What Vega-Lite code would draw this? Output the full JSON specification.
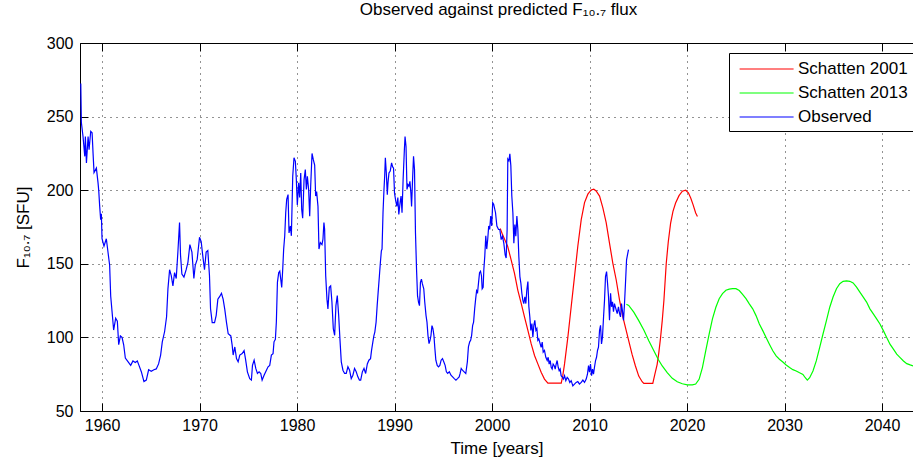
{
  "$schema": "https://vega.github.io/schema/vega-lite/v6.json",
  "width": 833,
  "height": 368,
  "autosize": {"type": "none"},
  "padding": {"left": 80, "top": 43, "right": 0, "bottom": 46},
  "background": "#ffffff",
  "title": {"text": "Observed against predicted F₁₀.₇ flux", "fontSize": 17, "fontWeight": "normal", "font": "Liberation Sans", "color": "#000000", "offset": 16, "anchor": "middle", "dx": 2},
  "config": {
    "view": {"stroke": null},
    "font": "Liberation Sans",
    "axis": {"labelFont": "Liberation Sans", "titleFont": "Liberation Sans", "labelFontSize": 16, "titleFontSize": 17, "titleFontWeight": "normal", "labelColor": "#000000", "titleColor": "#000000", "domainColor": "#000000", "tickColor": "#000000", "domainWidth": 1, "tickWidth": 1, "labelFlush": false, "labelOverlap": false}
  },
  "datasets": {
    "flux": [
      {"series":"Observed","year":1957.82,"flux":272.5},{"series":"Observed","year":1957.88,"flux":246},{"series":"Observed","year":1958.05,"flux":236.5},{"series":"Observed","year":1958.23,"flux":223},{"series":"Observed","year":1958.29,"flux":236.5},{"series":"Observed","year":1958.40,"flux":218.5},{"series":"Observed","year":1958.57,"flux":236.5},{"series":"Observed","year":1958.67,"flux":227.5},{"series":"Observed","year":1958.84,"flux":240},{"series":"Observed","year":1958.98,"flux":239},{"series":"Observed","year":1959.08,"flux":225},{"series":"Observed","year":1959.18,"flux":212},{"series":"Observed","year":1959.42,"flux":215},{"series":"Observed","year":1959.59,"flux":205},{"series":"Observed","year":1959.66,"flux":200},{"series":"Observed","year":1959.76,"flux":189},{"series":"Observed","year":1959.86,"flux":180},{"series":"Observed","year":1959.93,"flux":184},{"series":"Observed","year":1960.00,"flux":167},{"series":"Observed","year":1960.20,"flux":162},{"series":"Observed","year":1960.44,"flux":167},{"series":"Observed","year":1960.61,"flux":158},{"series":"Observed","year":1960.78,"flux":149},{"series":"Observed","year":1960.89,"flux":128},{"series":"Observed","year":1961.06,"flux":115},{"series":"Observed","year":1961.19,"flux":105},{"series":"Observed","year":1961.40,"flux":113},{"series":"Observed","year":1961.57,"flux":111},{"series":"Observed","year":1961.71,"flux":95},{"series":"Observed","year":1961.88,"flux":101},{"series":"Observed","year":1962.05,"flux":100},{"series":"Observed","year":1962.22,"flux":95},{"series":"Observed","year":1962.39,"flux":86},{"series":"Observed","year":1962.66,"flux":83.5},{"series":"Observed","year":1962.94,"flux":81},{"series":"Observed","year":1963.17,"flux":84},{"series":"Observed","year":1963.41,"flux":83},{"series":"Observed","year":1963.62,"flux":84},{"series":"Observed","year":1963.79,"flux":81},{"series":"Observed","year":1964.03,"flux":76.7},{"series":"Observed","year":1964.30,"flux":70},{"series":"Observed","year":1964.54,"flux":71},{"series":"Observed","year":1964.78,"flux":78},{"series":"Observed","year":1965.05,"flux":77},{"series":"Observed","year":1965.32,"flux":78},{"series":"Observed","year":1965.56,"flux":78.6},{"series":"Observed","year":1965.80,"flux":82},{"series":"Observed","year":1966.01,"flux":88},{"series":"Observed","year":1966.18,"flux":97},{"series":"Observed","year":1966.42,"flux":104},{"series":"Observed","year":1966.62,"flux":114},{"series":"Observed","year":1966.76,"flux":133},{"series":"Observed","year":1966.93,"flux":146},{"series":"Observed","year":1967.10,"flux":142},{"series":"Observed","year":1967.27,"flux":135},{"series":"Observed","year":1967.44,"flux":144},{"series":"Observed","year":1967.61,"flux":140},{"series":"Observed","year":1967.78,"flux":158},{"series":"Observed","year":1967.95,"flux":178},{"series":"Observed","year":1968.05,"flux":156},{"series":"Observed","year":1968.19,"flux":143},{"series":"Observed","year":1968.40,"flux":141},{"series":"Observed","year":1968.63,"flux":146},{"series":"Observed","year":1968.81,"flux":151},{"series":"Observed","year":1969.01,"flux":163},{"series":"Observed","year":1969.22,"flux":158},{"series":"Observed","year":1969.42,"flux":140},{"series":"Observed","year":1969.56,"flux":149},{"series":"Observed","year":1969.76,"flux":153},{"series":"Observed","year":1970.00,"flux":168},{"series":"Observed","year":1970.17,"flux":165},{"series":"Observed","year":1970.34,"flux":155},{"series":"Observed","year":1970.51,"flux":146},{"series":"Observed","year":1970.68,"flux":158},{"series":"Observed","year":1970.85,"flux":159},{"series":"Observed","year":1971.02,"flux":142},{"series":"Observed","year":1971.13,"flux":119.5},{"series":"Observed","year":1971.30,"flux":110},{"series":"Observed","year":1971.54,"flux":110},{"series":"Observed","year":1971.71,"flux":115},{"series":"Observed","year":1971.88,"flux":126},
      {"series":"Observed","year":1972.09,"flux":128},{"series":"Observed","year":1972.25,"flux":130},{"series":"Observed","year":1972.42,"flux":126},{"series":"Observed","year":1972.59,"flux":119},{"series":"Observed","year":1972.76,"flux":110.4},{"series":"Observed","year":1972.94,"flux":102.5},{"series":"Observed","year":1973.21,"flux":101},{"series":"Observed","year":1973.35,"flux":94.6},{"series":"Observed","year":1973.45,"flux":88},{"series":"Observed","year":1973.62,"flux":93.5},{"series":"Observed","year":1973.79,"flux":85.6},{"series":"Observed","year":1973.96,"flux":83.4},{"series":"Observed","year":1974.13,"flux":88},{"series":"Observed","year":1974.37,"flux":89},{"series":"Observed","year":1974.57,"flux":91},{"series":"Observed","year":1974.71,"flux":85.6},{"series":"Observed","year":1974.91,"flux":76.6},{"series":"Observed","year":1975.15,"flux":72},{"series":"Observed","year":1975.32,"flux":71},{"series":"Observed","year":1975.43,"flux":81},{"series":"Observed","year":1975.60,"flux":84.5},{"series":"Observed","year":1975.77,"flux":78.9},{"series":"Observed","year":1975.94,"flux":75.5},{"series":"Observed","year":1976.11,"flux":76.6},{"series":"Observed","year":1976.28,"flux":75.5},{"series":"Observed","year":1976.42,"flux":71},{"series":"Observed","year":1976.62,"flux":74.3},{"series":"Observed","year":1976.86,"flux":77.7},{"series":"Observed","year":1977.03,"flux":80},{"series":"Observed","year":1977.20,"flux":81},{"series":"Observed","year":1977.37,"flux":88},{"series":"Observed","year":1977.54,"flux":89},{"series":"Observed","year":1977.64,"flux":97},{"series":"Observed","year":1977.78,"flux":98.7},{"series":"Observed","year":1977.88,"flux":110.4},{"series":"Observed","year":1977.99,"flux":137.4},{"series":"Observed","year":1978.12,"flux":144},{"series":"Observed","year":1978.23,"flux":145},{"series":"Observed","year":1978.33,"flux":139.6},{"series":"Observed","year":1978.43,"flux":134},{"series":"Observed","year":1978.53,"flux":146},{"series":"Observed","year":1978.63,"flux":160},{"series":"Observed","year":1978.74,"flux":169},{"series":"Observed","year":1978.84,"flux":184.7},{"series":"Observed","year":1978.94,"flux":193.7},{"series":"Observed","year":1979.08,"flux":197},{"series":"Observed","year":1979.18,"flux":171},{"series":"Observed","year":1979.32,"flux":175.7},{"series":"Observed","year":1979.42,"flux":169},{"series":"Observed","year":1979.49,"flux":189},{"series":"Observed","year":1979.56,"flux":209.5},{"series":"Observed","year":1979.69,"flux":222},{"series":"Observed","year":1979.83,"flux":219.6},{"series":"Observed","year":1979.93,"flux":207},{"series":"Observed","year":1980.03,"flux":190},{"series":"Observed","year":1980.17,"flux":205},{"series":"Observed","year":1980.27,"flux":195},{"series":"Observed","year":1980.38,"flux":211.7},{"series":"Observed","year":1980.48,"flux":187},{"series":"Observed","year":1980.58,"flux":181},{"series":"Observed","year":1980.72,"flux":207},{"series":"Observed","year":1980.85,"flux":214},{"series":"Observed","year":1980.96,"flux":200.5},{"series":"Observed","year":1981.06,"flux":209.5},{"series":"Observed","year":1981.19,"flux":200.5},{"series":"Observed","year":1981.30,"flux":182.4},{"series":"Observed","year":1981.40,"flux":202.7},{"series":"Observed","year":1981.54,"flux":225},{"series":"Observed","year":1981.67,"flux":220.7},{"series":"Observed","year":1981.81,"flux":217},{"series":"Observed","year":1981.91,"flux":196},{"series":"Observed","year":1982.01,"flux":199},{"series":"Observed","year":1982.15,"flux":189},{"series":"Observed","year":1982.25,"flux":160},{"series":"Observed","year":1982.39,"flux":164.4},{"series":"Observed","year":1982.56,"flux":163},{"series":"Observed","year":1982.66,"flux":166.7},{"series":"Observed","year":1982.76,"flux":178},{"series":"Observed","year":1982.83,"flux":173.4},{"series":"Observed","year":1982.94,"flux":142},{"series":"Observed","year":1983.07,"flux":126},{"series":"Observed","year":1983.17,"flux":119.4},{"series":"Observed","year":1983.31,"flux":134},{"series":"Observed","year":1983.45,"flux":135},{"series":"Observed","year":1983.58,"flux":124},{"series":"Observed","year":1983.72,"flux":106},{"series":"Observed","year":1983.86,"flux":101.4},{"series":"Observed","year":1983.99,"flux":121.6},{"series":"Observed","year":1984.13,"flux":128.4},{"series":"Observed","year":1984.27,"flux":115},{"series":"Observed","year":1984.40,"flux":99},{"series":"Observed","year":1984.54,"flux":83.4},{"series":"Observed","year":1984.71,"flux":77.7},{"series":"Observed","year":1984.88,"flux":75.5},{"series":"Observed","year":1985.05,"flux":75.5},{"series":"Observed","year":1985.22,"flux":80},{"series":"Observed","year":1985.39,"flux":77.7},{"series":"Observed","year":1985.56,"flux":72},{"series":"Observed","year":1985.73,"flux":74.3},{"series":"Observed","year":1985.90,"flux":78.9},{"series":"Observed","year":1986.07,"flux":76.6},{"series":"Observed","year":1986.24,"flux":73.2},{"series":"Observed","year":1986.40,"flux":71},
      {"series":"Observed","year":1986.53,"flux":71},{"series":"Observed","year":1986.70,"flux":76.6},{"series":"Observed","year":1986.87,"flux":78.9},{"series":"Observed","year":1987.04,"flux":75.5},{"series":"Observed","year":1987.21,"flux":82},{"series":"Observed","year":1987.37,"flux":84.5},{"series":"Observed","year":1987.54,"flux":85.6},{"series":"Observed","year":1987.64,"flux":91},{"series":"Observed","year":1987.78,"flux":97},{"series":"Observed","year":1987.88,"flux":101},{"series":"Observed","year":1987.98,"flux":103.6},{"series":"Observed","year":1988.11,"flux":110.4},{"series":"Observed","year":1988.22,"flux":121.6},{"series":"Observed","year":1988.32,"flux":130.6},{"series":"Observed","year":1988.45,"flux":141.9},{"series":"Observed","year":1988.55,"flux":150.9},{"series":"Observed","year":1988.65,"flux":158.8},{"series":"Observed","year":1988.72,"flux":160},{"series":"Observed","year":1988.82,"flux":184.7},{"series":"Observed","year":1988.92,"flux":200.5},{"series":"Observed","year":1988.99,"flux":209.5},{"series":"Observed","year":1989.06,"flux":222},{"series":"Observed","year":1989.16,"flux":211.7},{"series":"Observed","year":1989.26,"flux":197},{"series":"Observed","year":1989.33,"flux":205},{"series":"Observed","year":1989.43,"flux":211.7},{"series":"Observed","year":1989.56,"flux":213},{"series":"Observed","year":1989.70,"flux":218.5},{"series":"Observed","year":1989.80,"flux":216},{"series":"Observed","year":1989.90,"flux":215},{"series":"Observed","year":1990.00,"flux":198},{"series":"Observed","year":1990.13,"flux":192.6},{"series":"Observed","year":1990.24,"flux":189},{"series":"Observed","year":1990.34,"flux":195},{"series":"Observed","year":1990.44,"flux":183.6},{"series":"Observed","year":1990.57,"flux":191.5},{"series":"Observed","year":1990.67,"flux":196},{"series":"Observed","year":1990.77,"flux":184.7},{"series":"Observed","year":1990.88,"flux":207},{"series":"Observed","year":1991.01,"flux":227.5},{"series":"Observed","year":1991.08,"flux":236.5},{"series":"Observed","year":1991.18,"flux":229.7},{"series":"Observed","year":1991.28,"flux":200.5},{"series":"Observed","year":1991.38,"flux":203.8},{"series":"Observed","year":1991.48,"flux":202.7},{"series":"Observed","year":1991.58,"flux":206},{"series":"Observed","year":1991.68,"flux":198},{"series":"Observed","year":1991.75,"flux":189},{"series":"Observed","year":1991.85,"flux":207},{"series":"Observed","year":1991.95,"flux":223},{"series":"Observed","year":1992.05,"flux":214},{"series":"Observed","year":1992.15,"flux":171},{"series":"Observed","year":1992.26,"flux":146},{"series":"Observed","year":1992.36,"flux":128.4},{"series":"Observed","year":1992.46,"flux":124},{"series":"Observed","year":1992.56,"flux":121.6},{"series":"Observed","year":1992.66,"flux":137.4},{"series":"Observed","year":1992.76,"flux":139.6},{"series":"Observed","year":1992.86,"flux":136.3},{"series":"Observed","year":1993.00,"flux":133},{"series":"Observed","year":1993.10,"flux":124},{"series":"Observed","year":1993.23,"flux":115},{"series":"Observed","year":1993.33,"flux":110.4},{"series":"Observed","year":1993.43,"flux":101.4},{"series":"Observed","year":1993.54,"flux":95.8},{"series":"Observed","year":1993.64,"flux":98},{"series":"Observed","year":1993.74,"flux":101.4},{"series":"Observed","year":1993.84,"flux":108},{"series":"Observed","year":1993.94,"flux":106},{"series":"Observed","year":1994.04,"flux":101.4},{"series":"Observed","year":1994.14,"flux":92.4},{"series":"Observed","year":1994.24,"flux":84.5},{"series":"Observed","year":1994.38,"flux":81},{"series":"Observed","year":1994.51,"flux":80},{"series":"Observed","year":1994.65,"flux":81},{"series":"Observed","year":1994.78,"flux":84.5},{"series":"Observed","year":1994.92,"flux":85.6},{"series":"Observed","year":1995.05,"flux":83.4},{"series":"Observed","year":1995.19,"flux":81},{"series":"Observed","year":1995.32,"flux":76.6},{"series":"Observed","year":1995.45,"flux":75.5},{"series":"Observed","year":1995.62,"flux":76.6},{"series":"Observed","year":1995.79,"flux":74.3},{"series":"Observed","year":1995.96,"flux":73.2},{"series":"Observed","year":1996.13,"flux":72},{"series":"Observed","year":1996.30,"flux":71},{"series":"Observed","year":1996.46,"flux":72},{"series":"Observed","year":1996.63,"flux":73.2},{"series":"Observed","year":1996.73,"flux":75.5},{"series":"Observed","year":1996.84,"flux":78.9},{"series":"Observed","year":1996.97,"flux":77.7},{"series":"Observed","year":1997.14,"flux":76.6},{"series":"Observed","year":1997.31,"flux":75.5},{"series":"Observed","year":1997.47,"flux":83.4},{"series":"Observed","year":1997.58,"flux":93.5},{"series":"Observed","year":1997.71,"flux":97},{"series":"Observed","year":1997.81,"flux":98},{"series":"Observed","year":1997.91,"flux":101.4},{"series":"Observed","year":1998.01,"flux":108},{"series":"Observed","year":1998.11,"flux":110.4},{"series":"Observed","year":1998.22,"flux":119.4},{"series":"Observed","year":1998.32,"flux":126},{"series":"Observed","year":1998.42,"flux":131.8},{"series":"Observed","year":1998.52,"flux":130.6},{"series":"Observed","year":1998.62,"flux":137.4},{"series":"Observed","year":1998.72,"flux":144},{"series":"Observed","year":1998.82,"flux":145},{"series":"Observed","year":1998.92,"flux":141.9},{"series":"Observed","year":1998.99,"flux":133},{"series":"Observed","year":1999.09,"flux":134},{"series":"Observed","year":1999.16,"flux":146},{"series":"Observed","year":1999.26,"flux":155.4},{"series":"Observed","year":1999.36,"flux":169},{"series":"Observed","year":1999.46,"flux":160},{"series":"Observed","year":1999.56,"flux":166.7},{"series":"Observed","year":1999.66,"flux":175.7},{"series":"Observed","year":1999.76,"flux":173.4},{"series":"Observed","year":1999.87,"flux":182.4},{"series":"Observed","year":1999.97,"flux":175.7},{"series":"Observed","year":2000.07,"flux":191.5},{"series":"Observed","year":2000.17,"flux":190.5},
      {"series":"Observed","year":2000.36,"flux":184.7},{"series":"Observed","year":2000.50,"flux":175.6},{"series":"Observed","year":2000.67,"flux":173.3},{"series":"Observed","year":2000.80,"flux":173.3},{"series":"Observed","year":2000.94,"flux":166.4},{"series":"Observed","year":2001.07,"flux":168.7},{"series":"Observed","year":2001.21,"flux":164},{"series":"Observed","year":2001.35,"flux":156},{"series":"Observed","year":2001.45,"flux":153.9},{"series":"Observed","year":2001.55,"flux":173.3},{"series":"Observed","year":2001.62,"flux":221.2},{"series":"Observed","year":2001.73,"flux":220},{"series":"Observed","year":2001.83,"flux":224.7},{"series":"Observed","year":2001.93,"flux":216.7},{"series":"Observed","year":2002.03,"flux":196},{"series":"Observed","year":2002.14,"flux":184.7},{"series":"Observed","year":2002.24,"flux":164},{"series":"Observed","year":2002.34,"flux":176.7},{"series":"Observed","year":2002.44,"flux":168.7},{"series":"Observed","year":2002.55,"flux":182.4},{"series":"Observed","year":2002.65,"flux":173.3},{"series":"Observed","year":2002.75,"flux":155},{"series":"Observed","year":2002.86,"flux":141.3},{"series":"Observed","year":2002.96,"flux":136.8},{"series":"Observed","year":2003.06,"flux":130},{"series":"Observed","year":2003.16,"flux":125.3},{"series":"Observed","year":2003.26,"flux":123},{"series":"Observed","year":2003.37,"flux":127.6},{"series":"Observed","year":2003.47,"flux":123},{"series":"Observed","year":2003.57,"flux":132.2},{"series":"Observed","year":2003.68,"flux":137.9},{"series":"Observed","year":2003.78,"flux":120.8},{"series":"Observed","year":2003.88,"flux":113.9},{"series":"Observed","year":2003.98,"flux":104.8},{"series":"Observed","year":2004.09,"flux":109.4},{"series":"Observed","year":2004.19,"flux":100.2},{"series":"Observed","year":2004.29,"flux":108.2},{"series":"Observed","year":2004.39,"flux":111.6},{"series":"Observed","year":2004.50,"flux":104.8},{"series":"Observed","year":2004.60,"flux":106},{"series":"Observed","year":2004.70,"flux":98},{"series":"Observed","year":2004.80,"flux":99},{"series":"Observed","year":2004.94,"flux":95.6},{"series":"Observed","year":2005.04,"flux":93.3},{"series":"Observed","year":2005.15,"flux":96.8},{"series":"Observed","year":2005.25,"flux":90},{"series":"Observed","year":2005.38,"flux":91.1},{"series":"Observed","year":2005.52,"flux":86.5},{"series":"Observed","year":2005.66,"flux":84.3},{"series":"Observed","year":2005.76,"flux":86.5},{"series":"Observed","year":2005.86,"flux":81.9},{"series":"Observed","year":2005.97,"flux":84.3},{"series":"Observed","year":2006.07,"flux":79.7},{"series":"Observed","year":2006.17,"flux":78.5},{"series":"Observed","year":2006.27,"flux":81.9},{"series":"Observed","year":2006.38,"flux":80.8},{"series":"Observed","year":2006.48,"flux":78.5},{"series":"Observed","year":2006.58,"flux":81.9},{"series":"Observed","year":2006.68,"flux":84.3},{"series":"Observed","year":2006.79,"flux":79.7},{"series":"Observed","year":2006.89,"flux":77.4},{"series":"Observed","year":2006.99,"flux":78.5},{"series":"Observed","year":2007.09,"flux":74},{"series":"Observed","year":2007.23,"flux":72.8},{"series":"Observed","year":2007.33,"flux":71.7},{"series":"Observed","year":2007.44,"flux":74},{"series":"Observed","year":2007.57,"flux":70.6},{"series":"Observed","year":2007.71,"flux":72.8},{"series":"Observed","year":2007.85,"flux":71.7},{"series":"Observed","year":2007.98,"flux":69.4},{"series":"Observed","year":2008.12,"flux":70.6},{"series":"Observed","year":2008.29,"flux":67.1},{"series":"Observed","year":2008.46,"flux":68.3},{"series":"Observed","year":2008.63,"flux":69.4},{"series":"Observed","year":2008.80,"flux":70},{"series":"Observed","year":2008.97,"flux":68.3},{"series":"Observed","year":2009.15,"flux":69.4},{"series":"Observed","year":2009.32,"flux":71},{"series":"Observed","year":2009.49,"flux":69.4},{"series":"Observed","year":2009.66,"flux":71.7},{"series":"Observed","year":2009.79,"flux":75},{"series":"Observed","year":2009.90,"flux":80.8},{"series":"Observed","year":2010.00,"flux":76.3},{"series":"Observed","year":2010.10,"flux":81.9},{"series":"Observed","year":2010.21,"flux":74},{"series":"Observed","year":2010.31,"flux":78.5},{"series":"Observed","year":2010.41,"flux":75},{"series":"Observed","year":2010.51,"flux":79.7},{"series":"Observed","year":2010.62,"flux":84.3},{"series":"Observed","year":2010.72,"flux":86.5},{"series":"Observed","year":2010.82,"flux":91.1},{"series":"Observed","year":2010.92,"flux":93.3},{"series":"Observed","year":2011.03,"flux":104.8},{"series":"Observed","year":2011.13,"flux":108.2},{"series":"Observed","year":2011.23,"flux":95.6},{"series":"Observed","year":2011.33,"flux":100.2},{"series":"Observed","year":2011.44,"flux":113.9},{"series":"Observed","year":2011.54,"flux":125.3},{"series":"Observed","year":2011.64,"flux":141.3},{"series":"Observed","year":2011.75,"flux":144.7},{"series":"Observed","year":2011.85,"flux":136.8},{"series":"Observed","year":2011.95,"flux":127.6},{"series":"Observed","year":2012.05,"flux":111.6},{"series":"Observed","year":2012.16,"flux":130},{"series":"Observed","year":2012.26,"flux":120.8},{"series":"Observed","year":2012.36,"flux":124.2},{"series":"Observed","year":2012.46,"flux":117.4},{"series":"Observed","year":2012.56,"flux":123},{"series":"Observed","year":2012.70,"flux":119.6},{"series":"Observed","year":2012.84,"flux":116.2},{"series":"Observed","year":2012.97,"flux":120.8},{"series":"Observed","year":2013.08,"flux":116.2},{"series":"Observed","year":2013.18,"flux":113.9},{"series":"Observed","year":2013.28,"flux":123},{"series":"Observed","year":2013.39,"flux":117.4},{"series":"Observed","year":2013.49,"flux":111.6},{"series":"Observed","year":2013.59,"flux":123},{"series":"Observed","year":2013.69,"flux":136.8},{"series":"Observed","year":2013.80,"flux":152.7},{"series":"Observed","year":2013.90,"flux":156.2},{"series":"Observed","year":2014.00,"flux":159.6},
      {"series":"Schatten 2001","year":2000.84,"flux":174},{"series":"Schatten 2001","year":2001.07,"flux":170},{"series":"Schatten 2001","year":2001.30,"flux":166.5},{"series":"Schatten 2001","year":2001.60,"flux":162},{"series":"Schatten 2001","year":2001.96,"flux":152.7},{"series":"Schatten 2001","year":2002.30,"flux":143.6},{"series":"Schatten 2001","year":2002.65,"flux":132},{"series":"Schatten 2001","year":2003.00,"flux":123},{"series":"Schatten 2001","year":2003.33,"flux":114},{"series":"Schatten 2001","year":2003.68,"flux":104.8},{"series":"Schatten 2001","year":2004.02,"flux":95.6},{"series":"Schatten 2001","year":2004.36,"flux":87.7},{"series":"Schatten 2001","year":2004.70,"flux":82},{"series":"Schatten 2001","year":2005.04,"flux":76.3},{"series":"Schatten 2001","year":2005.38,"flux":71.7},{"series":"Schatten 2001","year":2005.73,"flux":69},{"series":"Schatten 2001","year":2006.40,"flux":69},{"series":"Schatten 2001","year":2007.10,"flux":69},{"series":"Schatten 2001","year":2007.26,"flux":74},{"series":"Schatten 2001","year":2007.44,"flux":82},{"series":"Schatten 2001","year":2007.78,"flux":100.2},{"series":"Schatten 2001","year":2008.12,"flux":120.8},{"series":"Schatten 2001","year":2008.46,"flux":141.3},{"series":"Schatten 2001","year":2008.80,"flux":161.9},{"series":"Schatten 2001","year":2009.15,"flux":180},{"series":"Schatten 2001","year":2009.49,"flux":191.6},{"series":"Schatten 2001","year":2009.83,"flux":197.3},{"series":"Schatten 2001","year":2010.17,"flux":200.2},{"series":"Schatten 2001","year":2010.44,"flux":200.7},{"series":"Schatten 2001","year":2010.68,"flux":199.5},{"series":"Schatten 2001","year":2011.03,"flux":196},{"series":"Schatten 2001","year":2011.37,"flux":188},{"series":"Schatten 2001","year":2011.71,"flux":177.9},{"series":"Schatten 2001","year":2012.05,"flux":164},{"series":"Schatten 2001","year":2012.39,"flux":150.5},{"series":"Schatten 2001","year":2012.74,"flux":139},{"series":"Schatten 2001","year":2013.08,"flux":125.3},{"series":"Schatten 2001","year":2013.42,"flux":114},{"series":"Schatten 2001","year":2013.76,"flux":104.8},{"series":"Schatten 2001","year":2014.10,"flux":95.6},{"series":"Schatten 2001","year":2014.36,"flux":88.6},{"series":"Schatten 2001","year":2014.71,"flux":80.6},{"series":"Schatten 2001","year":2015.05,"flux":73.7},{"series":"Schatten 2001","year":2015.40,"flux":69.9},{"series":"Schatten 2001","year":2015.57,"flux":68.7},{"series":"Schatten 2001","year":2016.49,"flux":68.7},{"series":"Schatten 2001","year":2016.70,"flux":74.9},{"series":"Schatten 2001","year":2016.94,"flux":81.7},{"series":"Schatten 2001","year":2017.11,"flux":89.7},{"series":"Schatten 2001","year":2017.29,"flux":100},{"series":"Schatten 2001","year":2017.46,"flux":111.4},{"series":"Schatten 2001","year":2017.63,"flux":125.1},{"series":"Schatten 2001","year":2017.87,"flux":150.2},{"series":"Schatten 2001","year":2018.08,"flux":165},{"series":"Schatten 2001","year":2018.32,"flux":177.6},{"series":"Schatten 2001","year":2018.56,"flux":185.6},{"series":"Schatten 2001","year":2018.83,"flux":191.3},{"series":"Schatten 2001","year":2019.18,"flux":196.3},{"series":"Schatten 2001","year":2019.52,"flux":199.3},{"series":"Schatten 2001","year":2019.86,"flux":200},{"series":"Schatten 2001","year":2020.14,"flux":198.2},{"series":"Schatten 2001","year":2020.38,"flux":194.7},{"series":"Schatten 2001","year":2020.62,"flux":190.2},{"series":"Schatten 2001","year":2020.89,"flux":184.5},{"series":"Schatten 2001","year":2021.07,"flux":182.2},
      {"series":"Schatten 2013","year":2013.78,"flux":122.5},{"series":"Schatten 2013","year":2014.02,"flux":121.7},{"series":"Schatten 2013","year":2014.54,"flux":117.2},{"series":"Schatten 2013","year":2015.05,"flux":111.4},{"series":"Schatten 2013","year":2015.57,"flux":105},{"series":"Schatten 2013","year":2016.08,"flux":97.7},{"series":"Schatten 2013","year":2016.60,"flux":90.9},{"series":"Schatten 2013","year":2017.04,"flux":85.2},{"series":"Schatten 2013","year":2017.46,"flux":80.6},{"series":"Schatten 2013","year":2017.97,"flux":76},{"series":"Schatten 2013","year":2018.49,"flux":72.2},{"series":"Schatten 2013","year":2019.00,"flux":69.9},{"series":"Schatten 2013","year":2019.52,"flux":68.5},{"series":"Schatten 2013","year":2020.03,"flux":67.8},{"series":"Schatten 2013","year":2020.55,"flux":67.8},{"series":"Schatten 2013","year":2020.89,"flux":68.3},{"series":"Schatten 2013","year":2021.24,"flux":71.5},{"series":"Schatten 2013","year":2021.58,"flux":79.5},{"series":"Schatten 2013","year":2021.92,"flux":90.9},{"series":"Schatten 2013","year":2022.27,"flux":102.3},{"series":"Schatten 2013","year":2022.61,"flux":112.6},{"series":"Schatten 2013","year":2022.96,"flux":120.5},{"series":"Schatten 2013","year":2023.30,"flux":126.3},{"series":"Schatten 2013","year":2023.64,"flux":129.7},{"series":"Schatten 2013","year":2023.99,"flux":132},{"series":"Schatten 2013","year":2024.33,"flux":132.8},{"series":"Schatten 2013","year":2024.67,"flux":133.1},{"series":"Schatten 2013","year":2025.02,"flux":133.1},{"series":"Schatten 2013","year":2025.36,"flux":131.8},{"series":"Schatten 2013","year":2025.70,"flux":129.2},{"series":"Schatten 2013","year":2026.05,"flux":126.3},{"series":"Schatten 2013","year":2026.39,"flux":122.8},{"series":"Schatten 2013","year":2026.74,"flux":119.4},{"series":"Schatten 2013","year":2027.08,"flux":114.8},{"series":"Schatten 2013","year":2027.42,"flux":109.1},{"series":"Schatten 2013","year":2027.77,"flux":104.6},{"series":"Schatten 2013","year":2028.11,"flux":100},{"series":"Schatten 2013","year":2028.45,"flux":95.4},{"series":"Schatten 2013","year":2028.80,"flux":90.9},{"series":"Schatten 2013","year":2029.14,"flux":87.4},{"series":"Schatten 2013","year":2029.48,"flux":85.2},{"series":"Schatten 2013","year":2029.83,"flux":83.3},{"series":"Schatten 2013","year":2030.17,"flux":81.3},{"series":"Schatten 2013","year":2030.52,"flux":79.5},{"series":"Schatten 2013","year":2030.86,"flux":78.1},{"series":"Schatten 2013","year":2031.20,"flux":77.2},{"series":"Schatten 2013","year":2031.55,"flux":76},{"series":"Schatten 2013","year":2031.89,"flux":74.9},{"series":"Schatten 2013","year":2032.13,"flux":72.6},{"series":"Schatten 2013","year":2032.34,"flux":71},{"series":"Schatten 2013","year":2032.58,"flux":72.6},{"series":"Schatten 2013","year":2032.92,"flux":77.2},{"series":"Schatten 2013","year":2033.26,"flux":84},{"series":"Schatten 2013","year":2033.61,"flux":93.2},{"series":"Schatten 2013","year":2033.95,"flux":102.3},{"series":"Schatten 2013","year":2034.30,"flux":111.4},{"series":"Schatten 2013","year":2034.64,"flux":120.5},{"series":"Schatten 2013","year":2034.98,"flux":127.4},{"series":"Schatten 2013","year":2035.33,"flux":133.1},{"series":"Schatten 2013","year":2035.67,"flux":136.5},{"series":"Schatten 2013","year":2036.01,"flux":138.1},{"series":"Schatten 2013","year":2036.36,"flux":138.4},{"series":"Schatten 2013","year":2036.70,"flux":138.1},{"series":"Schatten 2013","year":2037.04,"flux":137},{"series":"Schatten 2013","year":2037.39,"flux":134.2},{"series":"Schatten 2013","year":2037.73,"flux":130.8},{"series":"Schatten 2013","year":2038.08,"flux":127.4},{"series":"Schatten 2013","year":2038.42,"flux":124},{"series":"Schatten 2013","year":2038.76,"flux":119.4},{"series":"Schatten 2013","year":2039.11,"flux":116},{"series":"Schatten 2013","year":2039.45,"flux":112.6},{"series":"Schatten 2013","year":2039.79,"flux":109.1},{"series":"Schatten 2013","year":2040.14,"flux":104.6},{"series":"Schatten 2013","year":2040.48,"flux":100},{"series":"Schatten 2013","year":2040.82,"flux":95.4},{"series":"Schatten 2013","year":2041.17,"flux":92},{"series":"Schatten 2013","year":2041.51,"flux":88.6},{"series":"Schatten 2013","year":2041.86,"flux":86.3},{"series":"Schatten 2013","year":2042.20,"flux":84},{"series":"Schatten 2013","year":2042.54,"flux":82.2},{"series":"Schatten 2013","year":2042.89,"flux":81.3},{"series":"Schatten 2013","year":2043.30,"flux":80.4}
    ]
  },
  "data": {"name": "flux"},
  "layer": [
    {
      "transform": [{"filter": "datum.series !== 'Observed'"}],
      "mark": {"type": "line", "strokeWidth": 1.2, "clip": true},
      "encoding": {
        "x": {"field": "year", "type": "quantitative", "scale": {"domain": [1957.74, 2043.18], "nice": false, "zero": false},
          "axis": {"orient": "bottom", "values": [1960, 1970, 1980, 1990, 2000, 2010, 2020, 2030, 2040], "format": "d", "title": "Time [years]", "titleColor": "#000000", "grid": true, "gridColor": "#000000", "gridDash": [1, 5], "gridOpacity": 0.85, "tickSize": -8, "labelPadding": 14, "titlePadding": 7}},
        "y": {"field": "flux", "type": "quantitative", "scale": {"domain": [50, 300], "nice": false, "zero": false},
          "axis": {"values": [50, 100, 150, 200, 250, 300], "title": "F₁₀.₇ [SFU]", "titleColor": "#000000", "grid": true, "gridColor": "#000000", "gridDash": [1, 5], "gridOpacity": 0.85, "tickSize": -8, "labelPadding": 15, "titlePadding": 14}},
        "color": {"field": "series", "type": "nominal",
          "scale": {"domain": ["Schatten 2001", "Schatten 2013", "Observed"], "range": ["#ff0000", "#00ff00", "#0000ff"]},
          "legend": {"title": null, "orient": "none", "legendX": 649, "legendY": 10, "symbolType": "M-0.6,0H5.4", "symbolSize": 324, "symbolStrokeWidth": 1.2, "labelFontSize": 17, "labelFont": "Liberation Sans", "labelColor": "#000000", "labelOffset": 43, "rowPadding": 6, "padding": 6, "strokeColor": "#000000", "fillColor": "#ffffff", "cornerRadius": 0, "labelLimit": 0}}
      }
    },
    {
      "transform": [{"filter": "datum.series === 'Observed'"}],
      "mark": {"type": "line", "strokeWidth": 1.2, "clip": true},
      "encoding": {
        "x": {"field": "year", "type": "quantitative", "scale": {"domain": [1957.74, 2043.18], "nice": false, "zero": false},
          "axis": {"orient": "top", "values": [1960, 1970, 1980, 1990, 2000, 2010, 2020, 2030, 2040], "labels": false, "title": null, "grid": false, "tickSize": -8}},
        "y": {"field": "flux", "type": "quantitative"},
        "color": {"field": "series", "type": "nominal"}
      }
    }
  ],
  "resolve": {"axis": {"x": "independent"}}
}
